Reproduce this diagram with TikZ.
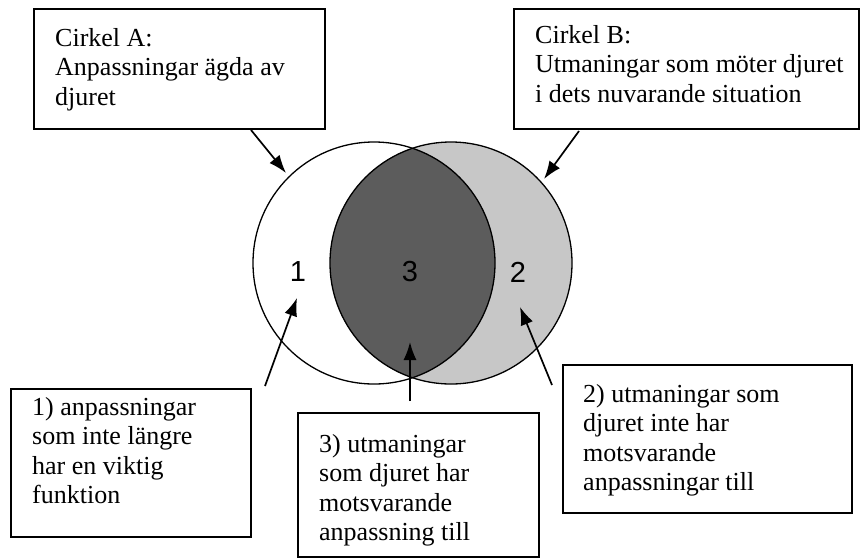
\documentclass[tikz,border=0pt]{standalone}
\usepackage{fontspec}
\setmainfont{Liberation Serif}
\newfontfamily\numfont{Liberation Sans}
\usetikzlibrary{arrows.meta}
\newcommand\mylines[1]{\begin{tabular}[t]{@{}l@{}}#1\end{tabular}}
\begin{document}
\begin{tikzpicture}[x=1pt,y=-1pt,
  box/.style={draw, line width=1.6pt, rectangle, inner sep=0pt},
  lbl/.style={inner sep=0pt, anchor=base west, font=\fontsize{26}{29.5}\selectfont},
  num/.style={font=\numfont\fontsize{29}{29}\selectfont, inner sep=0pt},
  arr/.style={line width=1.7pt, -{Latex[length=18pt,width=13pt]}},
  ring/.style={line width=1.3pt}]
\useasboundingbox[fill=white] (0,0) rectangle (862,558);

% boxes
\node[box, minimum width=291pt, minimum height=120pt] (boxA) at (179.5,69) {};
\node[box, minimum width=345pt, minimum height=120pt] (boxB) at (686.5,69) {};
\node[box, minimum width=240pt, minimum height=148pt] (box1) at (131,463) {};
\node[box, minimum width=241pt, minimum height=144pt] (box3) at (418.5,485) {};
\node[box, minimum width=289pt, minimum height=148pt] (box2) at (707.5,439) {};

% texts
\node[lbl] (tA) at (55,46) {\mylines{Cirkel A:\\Anpassningar ägda av\\djuret}};
\node[lbl] (tB) at (535,43) {\mylines{Cirkel B:\\Utmaningar som möter djuret\\i dets nuvarande situation}};
\node[lbl] (t1) at (32,415) {\mylines{1) anpassningar\\som inte längre\\har en viktig\\funktion}};
\node[lbl] (t3) at (319,452) {\mylines{3) utmaningar\\som djuret har\\motsvarande\\anpassning till}};
\node[lbl] (t2) at (583,402) {\mylines{2) utmaningar som\\djuret inte har\\motsvarande\\anpassningar till}};

% circles
\coordinate (cA) at (374,263);
\coordinate (cB) at (451,263);
\fill[black!22] (cB) circle (121);
\begin{scope}
  \clip (cA) circle (121);
  \fill[black!64] (cB) circle (121);
\end{scope}
\draw[ring] (cA) circle (121);
\draw[ring] (cB) circle (121);

% numbers
\node[num] (n1) at (298,272) {1};
\node[num] (n3) at (410,272) {3};
\node[num] (n2) at (518,272) {2};

% arrows
\coordinate (aA0) at (251,130); \coordinate (aA1) at (286,173);
\coordinate (aB0) at (579,131); \coordinate (aB1) at (544,179);
\coordinate (a10) at (265,386); \coordinate (a11) at (297,298);
\coordinate (a30) at (410,401); \coordinate (a31) at (410,342);
\coordinate (a20) at (552,385); \coordinate (a21) at (520,307);
\draw[arr] (aA0) -- (aA1);
\draw[arr] (aB0) -- (aB1);
\draw[arr] (a10) -- (a11);
\draw[arr] (a30) -- (a31);
\draw[arr] (a20) -- (a21);
\end{tikzpicture}
\end{document}
